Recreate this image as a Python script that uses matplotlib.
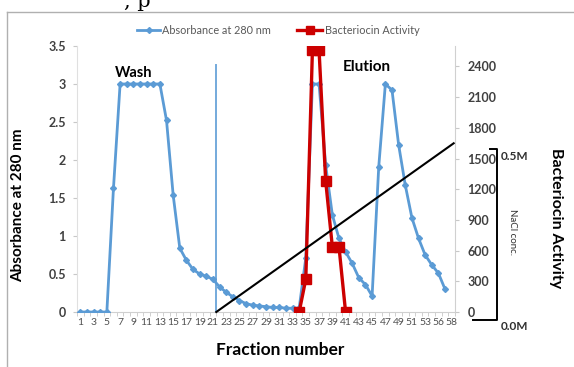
import numpy as np
import matplotlib
matplotlib.use("Agg")
import matplotlib.pyplot as plt
from matplotlib.lines import Line2D

plt.rcParams['font.family'] = ['Lato', 'DejaVu Sans']

# Fraction numbers on the category axis
fractions = list(range(1, 54)) + [55, 56, 57, 58]

# Absorbance at 280 nm (last fraction not measured)
absorbance = [0, 0, 0, 0, 0, 1.63, 3.0, 3.0, 3.0, 3.0, 3.0, 3.0, 3.0,
              2.52, 1.54, 0.84, 0.68, 0.56, 0.50, 0.47, 0.43, 0.33, 0.26,
              0.20, 0.15, 0.11, 0.09, 0.08, 0.07, 0.06, 0.06, 0.05, 0.05,
              0.05, 0.71, 3.0, 3.0, 1.93, 1.28, 0.97, 0.79, 0.64, 0.45,
              0.36, 0.21, 1.91, 3.0, 2.92, 2.20, 1.67, 1.24, 0.97, 0.75,
              0.62, 0.51, 0.30, np.nan]

# Bacteriocin activity (AU/ml) for the active fractions
activity_start = 33
activity = [0, 320, 2560, 2560, 1280, 640, 640, 0]

# wash / elution boundary and the NaCl gradient line
boundary = 20.5
gradient_start = (20.5, 0.0)
gradient_end = (56.3, 2.22)

blue = '#5B9BD5'
red = '#CC0000'
tick_col = '#404040'

W, H = 574, 367
fig = plt.figure(figsize=(W / 100, H / 100), dpi=100)
ax = fig.add_axes([77 / W, 1 - 312 / H, (455 - 77) / W, (312 - 46) / H])
ax2 = ax.twinx()

x = np.arange(len(fractions))
ax.plot(x, absorbance, color=blue, lw=2, marker='D', ms=3, zorder=3)
ax.plot([boundary, boundary], [0, 3.25], color=blue, lw=1.4, alpha=0.85)

xa = np.arange(activity_start, activity_start + len(activity))
ax2.plot(xa, activity, color=red, lw=2.4, marker='s', ms=6.5, zorder=3)

ax.set_xlim(-0.5, len(fractions) - 0.5)
ax.set_ylim(0, 3.5)
ax2.set_ylim(0, 2600)
ax.set_yticks(np.arange(0, 3.51, 0.5))
ax.set_yticklabels(['0', '0.5', '1', '1.5', '2', '2.5', '3', '3.5'])
ax2.set_yticks(np.arange(0, 2401, 300))

ax.set_xticks(x[::2])
ax.set_xticklabels([str(f) for f in fractions[::2]], fontsize=7.5, color='#505050')
ax.set_xticks(np.arange(-0.5, len(fractions), 1), minor=True)
ax.tick_params(axis='x', which='major', length=0, pad=4)
ax.tick_params(axis='x', which='minor', length=3, color='#c8c8c8')

for a in (ax, ax2):
    for s in a.spines.values():
        s.set_visible(False)
ax.spines['bottom'].set_visible(True)
ax.spines['bottom'].set_color('#d0d0d0')
ax.spines['left'].set_visible(True)
ax.spines['left'].set_color('#e0e0e0')
ax2.spines['right'].set_visible(True)
ax2.spines['right'].set_color('#d0d0d0')

ax.tick_params(axis='y', length=3, color='#c8c8c8', labelsize=9, labelcolor=tick_col, pad=5)
ax2.tick_params(axis='y', length=3, color='#c8c8c8', labelsize=9, labelcolor=tick_col, pad=6)
for lab in ax.get_yticklabels() + ax2.get_yticklabels():
    lab.set_fontweight('bold')

# gradient line drawn over both series
ax2.plot([gradient_start[0], gradient_end[0]],
         [gradient_start[1] * 2600 / 3.5, gradient_end[1] * 2600 / 3.5],
         color='black', lw=1.5, zorder=5, clip_on=False)

ax.text(5.2, 3.15, 'Wash', fontsize=10.5, fontweight='bold', va='center')
ax.text(39.5, 3.22, 'Elution', fontsize=11, fontweight='bold', va='center')

# overlay in pixel units for labels, legend and the NaCl bracket
ov = fig.add_axes([0, 0, 1, 1], zorder=10)
ov.set_xlim(0, W)
ov.set_ylim(H, 0)
ov.axis('off')

ov.text(18, 205, 'Absorbance at 280 nm', rotation=90, fontsize=11,
        fontweight='bold', ha='center', va='center')
ov.text(556, 218, 'Bacteriocin Activity', rotation=270, fontsize=11.5,
        fontweight='bold', ha='center', va='center')
ov.text(280, 350, 'Fraction number', fontsize=12.5, fontweight='bold',
        ha='center', va='center')

# legend
ov.add_line(Line2D([137, 160], [30, 30], color=blue, lw=2))
ov.plot([148.5], [30], marker='D', ms=3, color=blue)
ov.text(162, 30, 'Absorbance at 280 nm', fontsize=7.8, color='#595959', va='center')
ov.add_line(Line2D([297, 322], [30, 30], color=red, lw=2.4))
ov.plot([309.5], [30], marker='s', ms=6, color=red)
ov.text(325, 30, 'Bacteriocin Activity', fontsize=7.8, color='#595959', va='center')

# NaCl bracket
ov.add_line(Line2D([490, 497, 497, 473], [149, 149, 320, 320], color='black', lw=1.4))
ov.text(501, 157, '0.5M', fontsize=8.5, fontweight='bold', color='#303030', va='center')
ov.text(501, 327, '0.0M', fontsize=8.5, fontweight='bold', color='#303030', va='center')
ov.text(512, 232, 'NaCl conc.', rotation=270, fontsize=7, color='#303030',
        ha='center', va='center')

# chart border and the clipped text above it
ov.add_line(Line2D([7, W], [12, 12], color='#b0b0b0', lw=1))
ov.add_line(Line2D([7, 7], [12, H], color='#b0b0b0', lw=1))
ov.text(124, 7, ', p', fontsize=15, family='DejaVu Serif', va='baseline')

fig.savefig('out.png', dpi=100)
